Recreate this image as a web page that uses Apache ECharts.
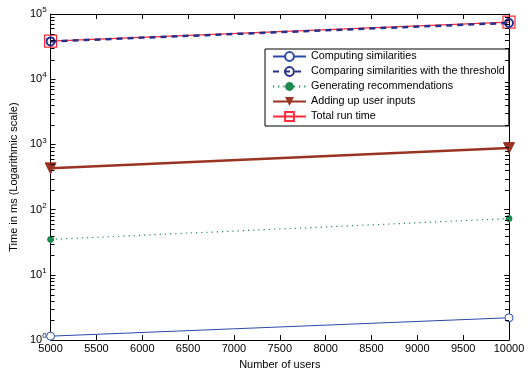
<!DOCTYPE html>
<html><head><meta charset="utf-8">
<script src="https://cdn.jsdelivr.net/npm/echarts@6/dist/echarts.min.js"></script>
<style>html,body{margin:0;padding:0;background:#fff}#c{width:532px;height:375px}</style>
</head><body><div id="c"></div>
<script>
const users = [5000, 10000];
const computing = [1.15, 2.2];
const comparing = [38000, 73000];
const generating = [35, 73];
const adding = [430, 880];
const total = [38500, 75000];
const xTicks = [5000,5500,6000,6500,7000,7500,8000,8500,9000,9500,10000];
const decades = [1, 10, 100, 1000, 10000];
const minorMult = [2,3,4,5,6,7,8,9];

const FONT = 'Liberation Sans, Arial, sans-serif';
const pts = a => users.map((u,i)=>[u,a[i]]);
const minorVals = [];
decades.forEach(d => minorMult.forEach(m => minorVals.push(m*d)));

const chart = echarts.init(document.getElementById('c'));
const axisLine = {show:true, lineStyle:{color:'#000', width:1}};
const logLabel = {
  fontFamily: FONT, fontSize: 11, color:'#000', margin: 4,
  formatter: v => '10{s|' + Math.round(Math.log10(v)) + '}',
  rich: {s:{fontSize:8, verticalAlign:'top', padding:[0,0,8,0], fontFamily:FONT, color:'#000'}}
};
chart.setOption({
  animation:false,
  textStyle:{fontFamily:FONT},
  grid:{left:43, right:23, top:14, bottom:29, show:false},
  legend:{
    orient:'vertical', left:265, top:49,
    backgroundColor:'#fff', borderColor:'#000', borderWidth:1,
    padding:[2,4,4,7], itemGap:4, itemWidth:33, itemHeight:11,
    textStyle:{fontFamily:FONT, fontSize:10.8, color:'#000'},
    data:['Computing similarities','Comparing similarities with the threshold','Generating recommendations','Adding up user inputs','Total run time']
  },
  xAxis:[{
    type:'value', min:5000, max:10000, interval:500,
    name:'Number of users', nameLocation:'middle', nameGap:16,
    nameTextStyle:{fontFamily:FONT, fontSize:11, color:'#000'},
    axisLine, axisTick:{show:true, inside:true, length:5, lineStyle:{color:'#000'}},
    axisLabel:{fontFamily:FONT, fontSize:11, color:'#000', margin:3, formatter: v => String(v)},
    splitLine:{show:false}
  },{
    type:'value', min:5000, max:10000, interval:500, position:'top',
    axisLine, axisTick:{show:true, inside:true, length:5, lineStyle:{color:'#000'}},
    axisLabel:{show:false}, splitLine:{show:false}
  }],
  yAxis:[{
    type:'log', logBase:10, min:1, max:100000,
    name:'Time in ms (Logarithmic scale)', nameLocation:'middle', nameGap:30,
    nameTextStyle:{fontFamily:FONT, fontSize:11, color:'#000'},
    axisLine, axisTick:{show:true, inside:true, length:5, lineStyle:{color:'#000'}},
    axisLabel:logLabel, splitLine:{show:false}
  },{
    type:'log', logBase:10, min:1, max:100000, position:'right',
    axisLine, axisTick:{show:true, inside:true, length:5, lineStyle:{color:'#000'}},
    axisLabel:{show:false}, splitLine:{show:false}
  }],
  series:[
    {name:'Computing similarities', type:'line', data:pts(computing),
     symbol:'circle', symbolSize:8, lineStyle:{color:'#2a4aa8', width:1},
     itemStyle:{color:'#fff', borderColor:'#2a4aa8', borderWidth:1}},
    {name:'Total run time', type:'line', data:pts(total), z:3,
     symbol:'rect', symbolSize:12, lineStyle:{color:'#ff2a3a', width:1.2},
     itemStyle:{color:'rgba(255,255,255,0)', borderColor:'#ff2a3a', borderWidth:1.2}},
    {name:'Comparing similarities with the threshold', type:'line', data:pts(comparing), z:4,
     symbol:'circle', symbolSize:8, lineStyle:{color:'#27308a', width:2.5, type:[6,5]},
     itemStyle:{color:'rgba(255,255,255,0)', borderColor:'#27308a', borderWidth:2}},
    {name:'Generating recommendations', type:'line', data:pts(generating),
     symbol:'circle', symbolSize:6, lineStyle:{color:'#1a8a50', width:1.2, type:[1.2,4]},
     itemStyle:{color:'#1a8a50', borderColor:'#1a8a50'}},
    {name:'Adding up user inputs', type:'line', data:pts(adding),
     symbol:'triangle', symbolRotate:180, symbolSize:11, lineStyle:{color:'#9a3322', width:2.5},
     itemStyle:{color:'#9a3322', borderColor:'#9a3322'}}
  ]
});
// minor log ticks on left and right axes, placed through the axis scale
const xl = chart.convertToPixel({xAxisIndex:0}, 5000);
const xr = chart.convertToPixel({xAxisIndex:0}, 10000);
const g = [];
minorVals.forEach(v => {
  const y = Math.round(chart.convertToPixel({yAxisIndex:0}, v)) + 0.5;
  g.push({type:'line', silent:true, z:100, shape:{x1:xl, y1:y, x2:xl+4, y2:y}, style:{stroke:'#000', lineWidth:1}});
  g.push({type:'line', silent:true, z:100, shape:{x1:xr-4, y1:y, x2:xr, y2:y}, style:{stroke:'#000', lineWidth:1}});
});
chart.setOption({graphic:g});
</script></body></html>
